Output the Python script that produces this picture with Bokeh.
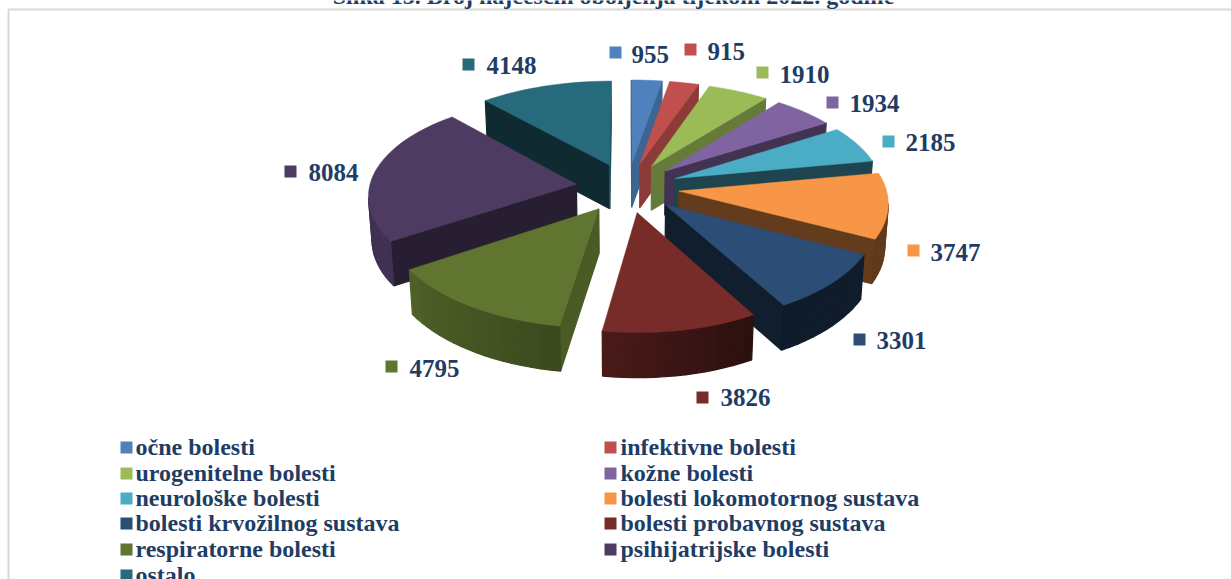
from bokeh.plotting import figure
from bokeh.embed import file_html
from bokeh.resources import INLINE
from bokeh.core.properties import value
from bokeh.models import Range1d
import numpy as np

categories = ["očne bolesti", "infektivne bolesti", "urogenitelne bolesti", "kožne bolesti",
              "neurološke bolesti", "bolesti lokomotornog sustava", "bolesti krvožilnog sustava",
              "bolesti probavnog sustava", "respiratorne bolesti", "psihijatrijske bolesti", "ostalo"]
values = [955, 915, 1910, 1934, 2185, 3747, 3301, 3826, 4795, 8084, 4148]
colors = ["#4f81bd", "#c0504d", "#9bbb59", "#8064a2", "#4bacc6", "#f79646",
          "#2c4d75", "#772c2a", "#5f7530", "#4d3b62", "#276a7c"]
title = "Slika 13. Broj najčešćih oboljenja tijekom 2022. godine"

# label layout (page pixels)
marker_xy = [(615, 52), (690, 49), (762, 72), (832, 102), (888, 141), (913, 250),
             (859, 339), (702, 397), (391, 366), (290, 171), (468, 64)]
label_x = [631, 707, 779, 849, 905, 930, 876, 720, 409, 308, 486]
label_y = [54, 51, 74, 103, 142, 252, 340, 397, 368, 172, 65]
leg_x = [120, 604]
leg_text_x = [135, 620]
leg_y = [447, 473, 498, 523, 549, 575]

TEXT = "#1f3d64"
FONT = value("Liberation Serif")

# pie projection parameters
CX, CY, RX, RY, EXPL, PERSP, PERSP_X, DEPTH, TAPER = 627, 187, 207, 99, 0.25, 0.12, 0.10, 44, 0.986


def project(X, Y):
    w = 1 / (1 - PERSP * np.asarray(Y))
    wx = 1 / (1 - PERSP_X * np.asarray(Y))
    return CX + RX * np.asarray(X) * wx, CY + RY * np.asarray(Y) * w, w


def shade(hex_color, f):
    r, g, b = [int(hex_color[i:i + 2], 16) for i in (1, 3, 5)]
    return "#%02x%02x%02x" % (int(r * f), int(g * f), int(b * f))


# shading as a function of the outward direction of a side face (deg clockwise from back)
WALL_A = [0, 99, 128, 147, 169, 207, 240, 360]
WALL_F = [.78, .78, .66, .52, .40, .40, .40, .40]
RIM_A = [60, 90, 120, 150, 185, 200, 240, 320]
RIM_F = [.42, .42, .38, .36, .60, .68, .85, .80]

p = figure(width=1231, height=579, output_backend="svg", toolbar_location=None,
           x_range=Range1d(0, 1231), y_range=Range1d(579, 0),
           min_border=0, outline_line_color=None, margin=(0, 0, 0, 0))
p.axis.visible = False
p.grid.visible = False

# frame
p.line([8, 8, 1231], [579, 9, 9], line_color="#d9d9d9", line_width=2)

# title
p.text([613], [-5], text=[title], text_font=FONT, text_font_style="bold", text_font_size="24px",
       text_color=TEXT, text_align="center", text_baseline="alphabetic")

total = sum(values)
edges = np.concatenate([[0], np.cumsum(values)]) / total * 2 * np.pi

slices = []
for i, v in enumerate(values):
    a0, a1 = edges[i], edges[i + 1]
    mid = (a0 + a1) / 2
    ox, oy = EXPL * np.sin(mid), -EXPL * np.cos(mid)
    slices.append((oy, i, a0, a1, ox, oy))

for _, i, a0, a1, ox, oy in sorted(slices):
    c = colors[i]
    n = max(4, int((a1 - a0) / np.radians(2.5)))
    th = np.linspace(a0, a1, n + 1)
    X = np.concatenate([[ox], ox + np.sin(th)])
    Y = np.concatenate([[oy], oy - np.cos(th)])
    sx, sy, w = project(X, Y)
    bx = CX + (sx - CX) * TAPER
    by = sy + DEPTH + 1 * (w - 1) / 0.15

    def quad(a, b, col):
        p.patch([sx[a], sx[b], bx[b], bx[a]], [sy[a], sy[b], by[b], by[a]],
                fill_color=col, line_color=col, line_width=1.2)

    # radial walls, only when they face the viewer
    if sx[1] < sx[0]:
        quad(0, 1, shade(c, np.interp((np.degrees(a0) - 90) % 360, WALL_A, WALL_F)))
    if sx[0] < sx[n + 1]:
        quad(0, n + 1, shade(c, np.interp((np.degrees(a1) + 90) % 360, WALL_A, WALL_F)))
    # rim segments on the near side
    for k in range(1, n + 1):
        if sx[k + 1] < sx[k]:
            ang = np.degrees((th[k - 1] + th[k]) / 2)
            quad(k, k + 1, shade(c, np.interp(ang, RIM_A, RIM_F)))
    p.patch(sx, sy, fill_color=c, line_color=c, line_width=0.5)

# data labels
p.scatter([m[0] for m in marker_xy], [m[1] for m in marker_xy], marker="square", size=12,
          color=colors, line_color=None)
p.text(label_x, label_y, text=[str(v) for v in values], text_font=FONT, text_font_style="bold",
       text_font_size="25px", text_color=TEXT, text_align="left", text_baseline="alphabetic")

# legend
lx, ly, ltx, lty = [], [], [], []
for i in range(len(categories)):
    row, col = i // 2, i % 2
    lx.append(leg_x[col] + 6)
    ly.append(leg_y[row])
    ltx.append(leg_text_x[col])
    lty.append(leg_y[row] - 1)
p.scatter(lx, ly, marker="square", size=12, color=colors, line_color=None)
p.text(ltx, lty, text=categories, text_font=FONT, text_font_style="bold",
       text_font_size="24px", text_color=TEXT, text_align="left", text_baseline="alphabetic")

open("out.html", "w").write(file_html(p, INLINE))
